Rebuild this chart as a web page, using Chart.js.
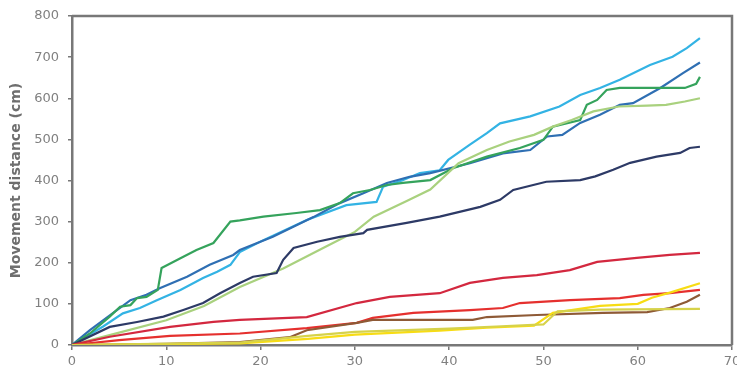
<!DOCTYPE html>
<html>
<head>
<meta charset="utf-8">
<script src="https://cdn.jsdelivr.net/npm/chart.js@4/dist/chart.umd.min.js"></script>
<style>
  html, body { margin: 0; padding: 0; background: #ffffff; }
  #wrap { width: 737px; height: 373px; }
</style>
</head>
<body>
<div id="wrap"><canvas id="c" width="737" height="373"></canvas></div>
<script>
// Cumulative movement distance (cm) against elapsed time, one line per track.
const xTicks = [0, 10, 20, 30, 40, 50, 60, 70];
const yTicks = [0, 100, 200, 300, 400, 500, 600, 700, 800];

const cyanT = [0, 3.3, 5.4, 7.2, 9, 11.5, 13.9, 15.4, 16.8, 17.8, 20.3, 24.9, 29.1, 32.3, 33, 35, 36.9, 39, 39.9, 42.2, 44, 45.4, 48.6, 51.7, 53.9, 56, 58.1, 61.3, 63.7, 65.2, 66.6];
const cyanD = [0, 45, 77, 90, 109, 134, 163, 178, 195, 226, 255, 304, 340, 348, 385, 400, 418, 425, 450, 487, 515, 539, 556, 580, 608, 625, 645, 681, 701, 722, 746];

const blueT = [0, 1.9, 4.3, 6.2, 7.9, 9.3, 12.2, 14.6, 17.1, 17.8, 21.3, 25.6, 28.4, 30.9, 33.4, 35.8, 38, 42.2, 45.7, 48.6, 50.4, 52, 53.9, 56, 58.1, 59.5, 62.4, 64.8, 66.6];
const blueD = [0, 36, 77, 109, 122, 138, 166, 195, 219, 231, 263, 311, 345, 369, 394, 409, 418, 442, 466, 474, 507, 511, 540, 560, 584, 588, 625, 661, 687];

const greenT = [0, 1.9, 4, 5.1, 6.2, 6.9, 7.9, 9.1, 9.5, 11.5, 13.2, 15, 16.8, 17.8, 20.3, 23.8, 26.3, 28.4, 29.8, 31.6, 33.4, 35.1, 38, 40.4, 44, 47.5, 50, 51, 53.9, 54.6, 55.7, 56.7, 58.1, 62, 65, 66.2, 66.6];
const greenD = [0, 28, 69, 93, 97, 114, 117, 134, 187, 211, 231, 248, 300, 303, 312, 321, 328, 345, 369, 377, 389, 394, 401, 430, 458, 479, 499, 531, 547, 584, 596, 620, 625, 625, 625, 635, 652];

const paleGreenT = [0, 5, 10, 14, 17.8, 22.4, 27, 30, 32, 35.5, 38, 41, 44, 46.4, 49, 51, 53, 55.3, 58, 61, 63, 65, 66.6];
const paleGreenD = [0, 30, 60, 95, 141, 186, 240, 275, 312, 350, 378, 442, 474, 495, 511, 531, 547, 568, 580, 582, 584, 592, 600];

const navyT = [0, 4, 6.9, 9.7, 11.8, 13.9, 15.7, 17.8, 19.2, 21.7, 22.4, 23.5, 26, 28.4, 30.9, 31.3, 35.5, 39, 43.3, 45.4, 46.8, 50.3, 53.9, 55.5, 57.4, 59.2, 62, 64.5, 65.5, 66.6];
const navyD = [0, 44, 56, 69, 85, 102, 126, 151, 166, 175, 207, 236, 251, 263, 272, 280, 297, 312, 336, 353, 377, 397, 401, 410, 426, 443, 458, 467, 479, 482];

const crimsonT = [0, 4, 10.4, 15, 17.8, 24.9, 30.2, 33.7, 39, 42.2, 45.7, 49.3, 52.8, 55.7, 59.9, 63.4, 66.6];
const crimsonD = [0, 20, 44, 56, 61, 68, 102, 117, 126, 151, 163, 170, 182, 202, 212, 219, 224];

const redT = [0, 5, 10.4, 17.8, 24.9, 30.2, 31.9, 36.2, 42.2, 45.7, 47.5, 52.8, 58.1, 60.6, 63.4, 66.6];
const redD = [0, 12, 22, 28, 41, 54, 66, 78, 85, 90, 102, 109, 114, 122, 126, 134];

const brownT = [0, 10, 17.8, 23.1, 24.9, 30.2, 31.9, 42.5, 44, 49.3, 56.3, 61, 63.4, 65.2, 66.6];
const brownD = [0, 3, 7, 19, 36, 54, 61, 61, 68, 73, 78, 80, 90, 105, 122];

const yellowT = [0, 17.8, 25, 30, 39, 44, 49, 51, 56, 60, 61.5, 63.5, 66.6];
const yellowD = [0, 4, 15, 25, 35, 42, 47, 78, 95, 100, 115, 128, 150];

const oliveT = [0, 17.8, 25, 30, 40, 45, 50, 51.5, 56, 66.6];
const oliveD = [0, 6, 22, 32, 40, 45, 50, 82, 86, 88];

function pts(ts, ds) {
  return ts.map((t, i) => ({ x: t, y: ds[i] }));
}

const series = [
  { name: 'olive',     t: oliveT,     d: oliveD,     color: '#d6d24a' },
  { name: 'yellow',    t: yellowT,    d: yellowD,    color: '#f7dc14' },
  { name: 'brown',     t: brownT,     d: brownD,     color: '#8e5a36' },
  { name: 'red',       t: redT,       d: redD,       color: '#e5302e' },
  { name: 'crimson',   t: crimsonT,   d: crimsonD,   color: '#d3283f' },
  { name: 'navy',      t: navyT,      d: navyD,      color: '#2d3a66' },
  { name: 'paleGreen', t: paleGreenT, d: paleGreenD, color: '#a9d17e' },
  { name: 'green',     t: greenT,     d: greenD,     color: '#35a35c' },
  { name: 'blue',      t: blueT,      d: blueD,      color: '#2f6fb3' },
  { name: 'cyan',      t: cyanT,      d: cyanD,      color: '#33b3e4' }
];

const axisGray = '#787878';
const textGray = '#808080';
const tickFont = { family: 'DejaVu Sans', size: 13 };

// Frame along the top and right of the plot area.
const framePlugin = {
  id: 'frame',
  afterDraw(chart) {
    const { ctx, chartArea: a } = chart;
    ctx.save();
    ctx.strokeStyle = axisGray;
    ctx.lineWidth = 2.5;
    ctx.beginPath();
    ctx.moveTo(a.left, a.top);
    ctx.lineTo(a.right, a.top);
    ctx.lineTo(a.right, a.bottom);
    ctx.stroke();
    ctx.restore();
  }
};

new Chart(document.getElementById('c'), {
  type: 'line',
  data: {
    datasets: series.map(s => ({
      label: s.name,
      data: pts(s.t, s.d),
      borderColor: s.color,
      backgroundColor: s.color,
      borderWidth: 2.2,
      pointRadius: 0,
      tension: 0,
      fill: false
    }))
  },
  options: {
    responsive: false,
    animation: false,
    events: [],
    layout: { padding: { left: 4, right: 5, top: 16, bottom: 0 } },
    plugins: { legend: { display: false }, tooltip: { enabled: false } },
    scales: {
      x: {
        type: 'linear',
        min: 0,
        max: 70,
        afterBuildTicks(scale) { scale.ticks = xTicks.map(v => ({ value: v })); },
        afterFit(scale) { scale.height = 28; scale.paddingLeft = 0; scale.paddingRight = 0; },
        border: { color: axisGray, width: 2.5 },
        grid: { drawOnChartArea: false, drawTicks: true, tickLength: 5, color: axisGray, lineWidth: 1.5 },
        ticks: { color: textGray, font: tickFont, padding: 4, maxRotation: 0 }
      },
      y: {
        type: 'linear',
        min: 0,
        max: 800,
        afterBuildTicks(scale) { scale.ticks = yTicks.map(v => ({ value: v })); },
        afterFit(scale) { scale.width = 68; scale.paddingTop = 0; scale.paddingBottom = 0; },
        border: { color: axisGray, width: 2.5 },
        grid: { drawOnChartArea: false, drawTicks: true, tickLength: 4, color: axisGray, lineWidth: 1.5 },
        ticks: { color: textGray, font: tickFont, padding: 9 },
        title: {
          display: true,
          text: 'Movement distance (cm)',
          color: '#6e6e6e',
          font: { family: 'DejaVu Sans', size: 14, weight: 'bold' },
          padding: { top: 4, bottom: 0 }
        }
      }
    }
  },
  plugins: [framePlugin]
});
</script>
</body>
</html>
